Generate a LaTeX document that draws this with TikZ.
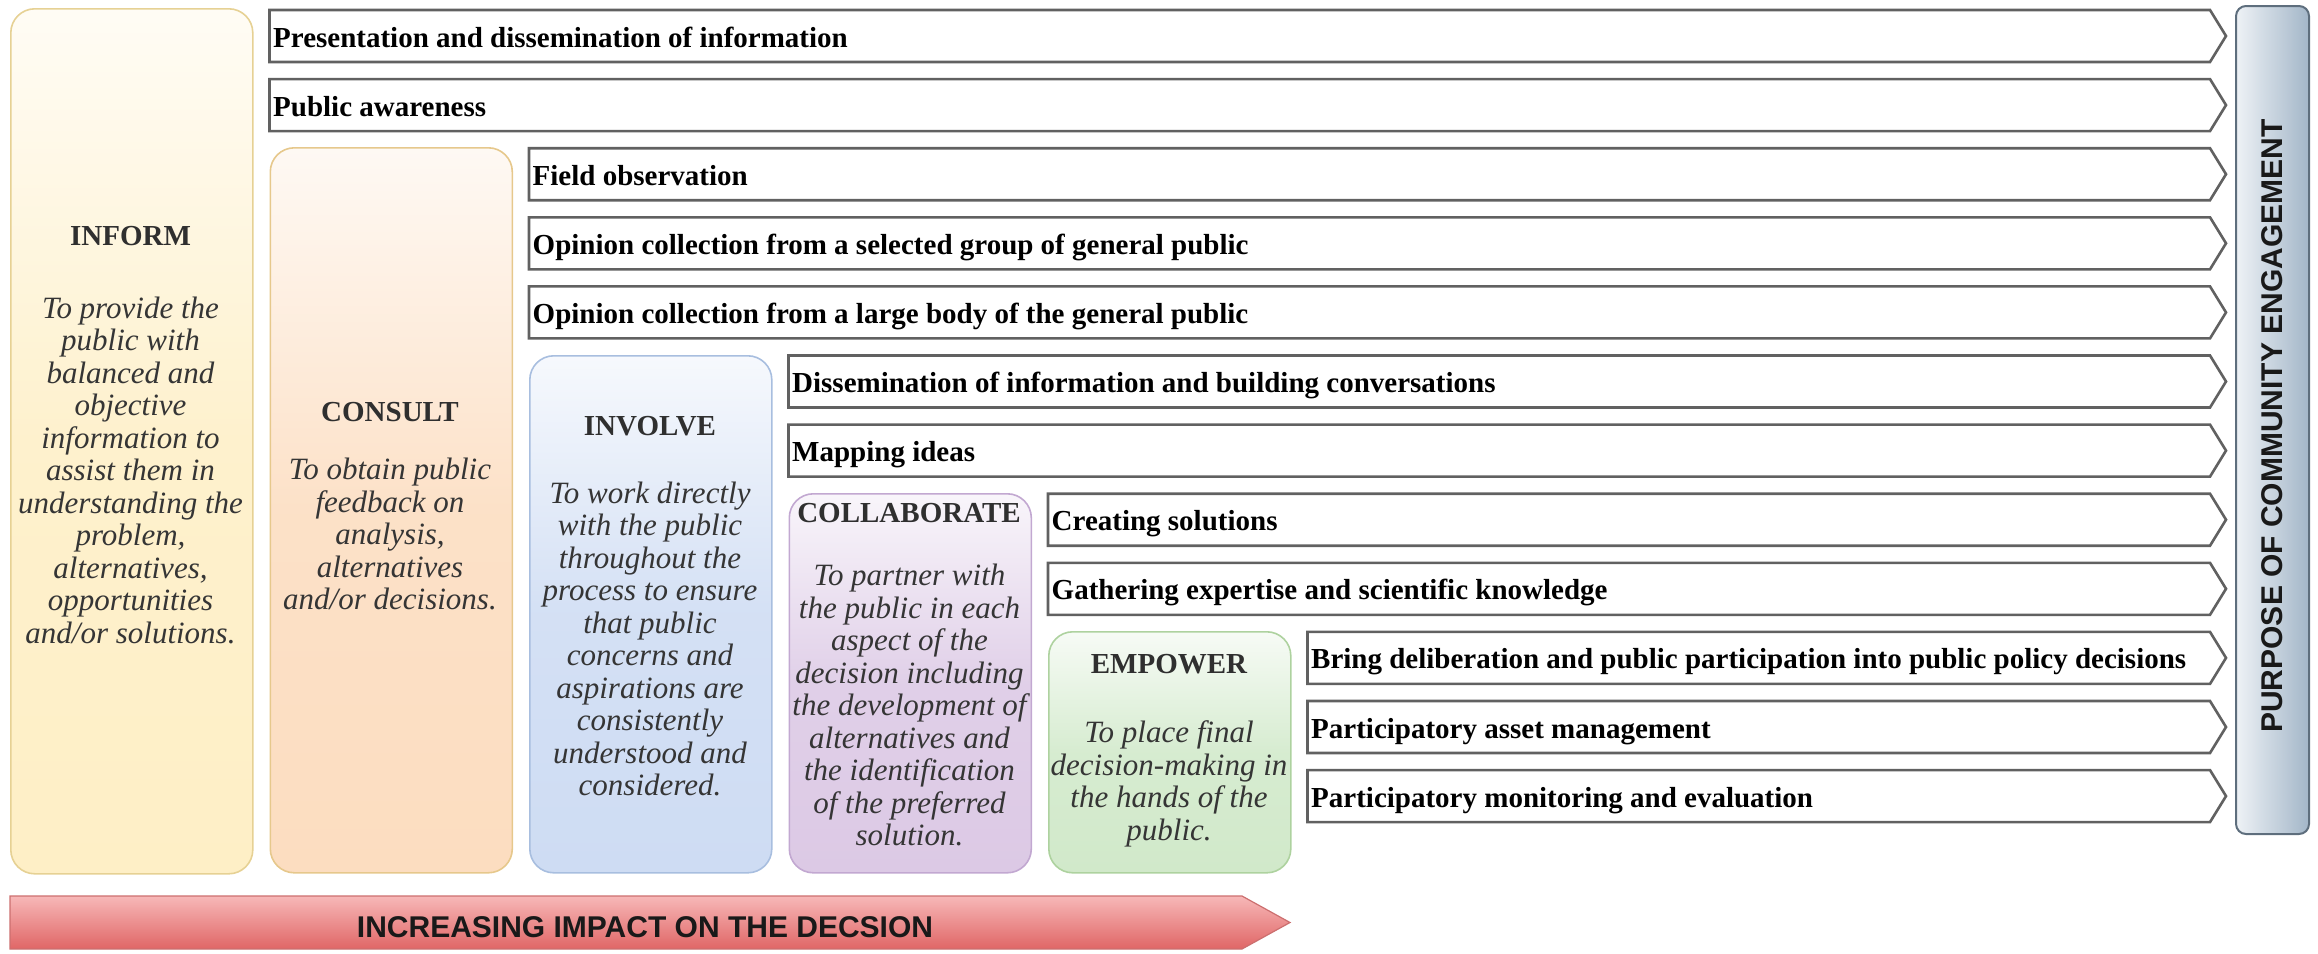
\documentclass[tikz,border=0pt]{standalone}
\usepackage{fontspec}
\setmainfont{Liberation Serif}
\setsansfont{Liberation Sans}

\definecolor{rowgray}{HTML}{616161}
\definecolor{titlegray}{HTML}{2F2F2F}
\definecolor{bodygray}{HTML}{353535}
\definecolor{informfill}{HTML}{FEEFC6}
\definecolor{informborder}{HTML}{E6D194}
\definecolor{consultfill}{HTML}{FCDDC0}
\definecolor{consultborder}{HTML}{E6C88C}
\definecolor{involvefill}{HTML}{CEDCF3}
\definecolor{involveborder}{HTML}{A8BEDF}
\definecolor{collabfill}{HTML}{DCC9E5}
\definecolor{collabborder}{HTML}{C2A8D1}
\definecolor{empowerfill}{HTML}{D1E9CA}
\definecolor{empowerborder}{HTML}{AED29F}
\definecolor{purposeL}{HTML}{EEF2F6}
\definecolor{purposeR}{HTML}{A3B6C8}
\definecolor{purposeborder}{HTML}{5E6E7D}
\definecolor{impactTop}{HTML}{F7B8B8}
\definecolor{impactBot}{HTML}{E06666}
\definecolor{impactborder}{HTML}{CC6F6F}

\begin{document}
\begin{tikzpicture}[x=1pt,y=-1pt,
  rowline/.style={draw=rowgray, line width=2.6pt, fill=white, line join=miter},
  rowtext/.style={anchor=base west, inner sep=0pt,
    font=\fontsize{29}{33}\selectfont\bfseries, text=black},
  colbox/.style={draw=#1border, line width=1.6pt, rounded corners=24pt,
    top color=#1fill!18!white, bottom color=#1fill, middle color=#1fill!88!white,
    minimum width=242pt, anchor=north west, inner sep=0pt},
  coltitle/.style={font=\fontsize{29}{33}\selectfont\bfseries, text=titlegray, inner sep=0pt},
  coltext/.style={font=\fontsize{31}{32.5}\selectfont\itshape, text=bodygray,
    align=center, inner sep=0pt},
]
\useasboundingbox (0,0) rectangle (2318,953);

% level columns
\node[colbox=inform,  minimum height=865pt] (inform)  at (10,8)      {};
\node[colbox=consult, minimum height=725pt] (consult) at (269.5,147) {};
\node[colbox=involve, minimum height=517pt] (involve) at (529,355)   {};
\node[colbox=collab,  minimum height=379pt] (collab)  at (788.5,493) {};
\node[colbox=empower, minimum height=241pt] (empower) at (1048,631)  {};

% titles
\node[coltitle] (informT)  at (130.5,236) {INFORM};
\node[coltitle] (consultT) at (390,412)   {CONSULT};
\node[coltitle] (involveT) at (650,426)   {INVOLVE};
\node[coltitle] (collabT)  at (909,513)   {COLLABORATE};
\node[coltitle] (empowerT) at (1169,664)  {EMPOWER};

% descriptions
\node[coltext] (informD) at (130.5,470) {To provide the\\ public with\\ balanced and\\ objective\\ information to\\ assist them in\\ understanding the\\ problem,\\ alternatives,\\ opportunities\\ and/or solutions.};
\node[coltext] (consultD) at (390,534) {To obtain public\\ feedback on\\ analysis,\\ alternatives\\ and/or decisions.};
\node[coltext] (involveD) at (650,639) {To work directly\\ with the public\\ throughout the\\ process to ensure\\ that public\\ concerns and\\ aspirations are\\ consistently\\ understood and\\ considered.};
\node[coltext] (collabD) at (909.5,705) {To partner with\\ the public in each\\ aspect of the\\ decision including\\ the development of\\ alternatives and\\ the identification\\ of the preferred\\ solution.};
\node[coltext] (empowerD) at (1169,784) {To place final\\ decision-making in\\ the hands of the\\ public.};

% purpose rows
\foreach \i/\xl/\txt in {
  0/269.5/{Presentation and dissemination of information},
  1/269.5/{Public awareness},
  2/529/{Field observation},
  3/529/{Opinion collection from a selected group of general public},
  4/529/{Opinion collection from a large body of the general public},
  5/788.5/{Dissemination of information and building conversations},
  6/788.5/{Mapping ideas},
  7/1048/{Creating solutions},
  8/1048/{Gathering expertise and scientific knowledge},
  9/1307.5/{Bring deliberation and public participation into public policy decisions},
  10/1307.5/{Participatory asset management},
  11/1307.5/{Participatory monitoring and evaluation}}
{
  \pgfmathsetmacro\yt{10+69.1*\i}
  \pgfmathsetmacro\ym{\yt+26}
  \pgfmathsetmacro\yb{\yt+52}
  \pgfmathsetmacro\yl{\yt+37}
  \draw[rowline] (\xl,\yt) -- (2210,\yt) -- (2226,\ym) -- (2210,\yb) -- (\xl,\yb) -- cycle;
  \node[rowtext] (row\i) at (\xl+3.5,\yl) {\txt};
}

% purpose bar
\node[draw=purposeborder, line width=2pt, rounded corners=10pt,
  left color=purposeL, right color=purposeR,
  minimum width=73pt, minimum height=828pt, anchor=north west, inner sep=0pt]
  (purpose) at (2235,5) {};
\node[rotate=90, inner sep=0pt, font=\fontsize{30}{33}\selectfont\sffamily\bfseries,
  text=black!90] (purposeT) at (2272,426) {PURPOSE OF COMMUNITY ENGAGEMENT};

% impact arrow
\path[draw=impactborder, line width=1.2pt, top color=impactTop, bottom color=impactBot]
  (10,896) -- (1242,896) -- (1290,922.5) -- (1242,949) -- (10,949) -- cycle;
\node[inner sep=0pt, font=\fontsize{30}{33}\selectfont\sffamily\bfseries, text=black!90]
  (impact) at (645,927) {INCREASING IMPACT ON THE DECSION};
\end{tikzpicture}
\end{document}
